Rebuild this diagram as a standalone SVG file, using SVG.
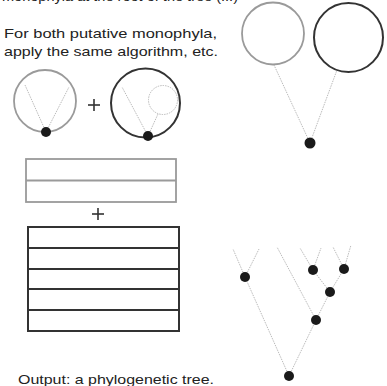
<svg xmlns="http://www.w3.org/2000/svg" width="387" height="386" viewBox="0 0 387 386">
  <style>
    text { font-family: "Liberation Sans", Arial, sans-serif; font-size: 13.5px; fill: #222; }
    .light { fill: none; stroke: #9a9a9a; stroke-width: 1.8; }
    .dark { fill: none; stroke: #333; stroke-width: 2; }
    .thin { fill: none; stroke: #aaa; stroke-width: 0.8; stroke-dasharray: 1.5 1; }
    .dot { fill: #1a1a1a; }
    .plus { stroke: #333; stroke-width: 1.6; }
  </style>
  <rect width="387" height="386" fill="#fff"/>

  <!-- captions -->
  <text x="2" y="1" textLength="236" lengthAdjust="spacingAndGlyphs">monophyla at the root of the tree (...)</text>
  <text x="4" y="38" textLength="213" lengthAdjust="spacingAndGlyphs">For both putative monophyla,</text>
  <text x="4" y="56" textLength="214" lengthAdjust="spacingAndGlyphs">apply the same algorithm, etc.</text>
  <text x="18" y="384" textLength="196" lengthAdjust="spacingAndGlyphs">Output: a phylogenetic tree.</text>

  <!-- small clade circles -->
  <g id="clade-left">
    <circle class="light" cx="45" cy="101" r="31"/>
    <line class="thin" x1="46" y1="132" x2="25" y2="85"/>
    <line class="thin" x1="46" y1="132" x2="69" y2="87"/>
    <circle class="dot" cx="46" cy="132" r="5"/>
  </g>
  <g id="plus-1">
    <line class="plus" x1="88" y1="105" x2="100" y2="105"/>
    <line class="plus" x1="94" y1="99" x2="94" y2="111"/>
  </g>
  <g id="clade-right">
    <circle class="dark" cx="145.5" cy="103" r="34.5"/>
    <circle class="thin" cx="163" cy="100" r="14.5"/>
    <line class="thin" x1="148" y1="136" x2="122" y2="87"/>
    <line class="thin" x1="148" y1="136" x2="158" y2="114"/>
    <circle class="dot" cx="148" cy="136" r="5"/>
  </g>

  <!-- data tables -->
  <g id="table-light">
    <rect class="light" x="26" y="159" width="150" height="43"/>
    <line class="light" x1="26" y1="180.5" x2="176" y2="180.5"/>
  </g>
  <g id="plus-2">
    <line class="plus" x1="92" y1="214" x2="104" y2="214"/>
    <line class="plus" x1="98" y1="208" x2="98" y2="220"/>
  </g>
  <g id="table-dark">
    <rect class="dark" x="28" y="227" width="151" height="104"/>
    <line class="dark" x1="28" y1="248" x2="179" y2="248"/>
    <line class="dark" x1="28" y1="269" x2="179" y2="269"/>
    <line class="dark" x1="28" y1="289" x2="179" y2="289"/>
    <line class="dark" x1="28" y1="310" x2="179" y2="310"/>
  </g>

  <!-- root split of the two clades -->
  <g id="connectors">
    <line class="thin" x1="310" y1="143" x2="274" y2="65"/>
    <line class="thin" x1="310" y1="143" x2="337" y2="70"/>
    <!-- resulting tree -->
    <line class="thin" x1="289" y1="376" x2="245" y2="277"/>
    <line class="thin" x1="289" y1="376" x2="316" y2="320"/>
    <line class="thin" x1="245" y1="277" x2="233" y2="249"/>
    <line class="thin" x1="245" y1="277" x2="259" y2="249"/>
    <line class="thin" x1="316" y1="320" x2="277" y2="247"/>
    <line class="thin" x1="316" y1="320" x2="330" y2="292"/>
    <line class="thin" x1="330" y1="292" x2="313" y2="270"/>
    <line class="thin" x1="330" y1="292" x2="344" y2="269"/>
    <line class="thin" x1="313" y1="270" x2="300" y2="248"/>
    <line class="thin" x1="313" y1="270" x2="321" y2="248"/>
    <line class="thin" x1="344" y1="269" x2="333" y2="247"/>
    <line class="thin" x1="344" y1="269" x2="351" y2="245"/>
  </g>

  <g id="clade-big-light">
    <circle class="light" cx="273" cy="33.5" r="31"/>
  </g>
  <g id="clade-big-dark">
    <circle class="dark" cx="348.5" cy="37.5" r="34.5"/>
  </g>
  <g id="node-split">
    <circle class="dot" cx="310" cy="143" r="5.5"/>
  </g>

  <g id="tree-nodes">
    <circle class="dot" cx="245" cy="277" r="5"/>
    <circle class="dot" cx="313" cy="270" r="5"/>
    <circle class="dot" cx="344" cy="269" r="5"/>
    <circle class="dot" cx="330" cy="292" r="5"/>
    <circle class="dot" cx="316" cy="320" r="5"/>
    <circle class="dot" cx="289" cy="376" r="5"/>
  </g>
</svg>
